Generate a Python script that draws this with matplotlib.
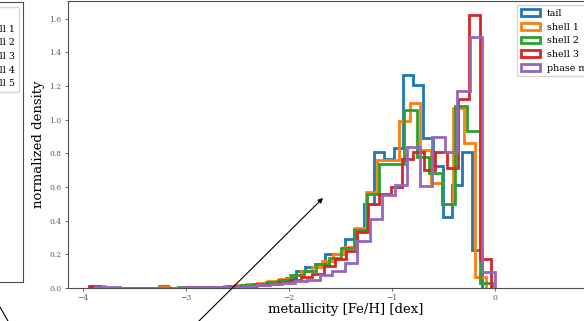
import numpy as np
import matplotlib
matplotlib.use("Agg")
import matplotlib.pyplot as plt
from matplotlib.patches import FancyArrowPatch, Patch

plt.rcParams['font.family'] = ['DejaVu Serif', 'DejaVu Sans']

# normalized metallicity histograms, one bin list per component
labels = ["tail", "shell 1", "shell 2", "shell 3", "phase mixed"]

tail_range = (-3.932, -0.126)
tail = [0.014, 0, 0, 0, 0, 0, 0, 0.013, 0, 0, 0.003, 0, 0.005, 0.006, 0.009,
        0.012, 0.016, 0.022, 0.03, 0.042, 0.06, 0.10, 0.125, 0.14, 0.20, 0.20,
        0.29, 0.35, 0.50, 0.81, 0.764, 0.834, 1.268, 1.209, 0.893, 0.723,
        0.419, 0.61, 0.81, 0.225]

shell1_range = (-3.896, -0.087)
shell1 = [0.012, 0, 0, 0, 0, 0, 0.003, 0, 0, 0.003, 0.004, 0.006, 0.01, 0.015,
          0.022, 0.03, 0.04, 0.055, 0.075, 0.10, 0.125, 0.16, 0.20, 0.245,
          0.355, 0.57, 0.76, 0.76, 0.99, 1.10, 0.82, 0.624, 0.50, 1.07, 0.86,
          0.067]

shell2_range = (-3.936, -0.022)
shell2 = [0.008, 0, 0, 0, 0, 0.002, 0, 0.003, 0.003, 0.005, 0.007, 0.01, 0.015,
          0.022, 0.035, 0.05, 0.075, 0.10, 0.14, 0.18, 0.235, 0.344, 0.56,
          0.735, 0.735, 1.055, 0.78, 0.683, 0.50, 1.084, 0.932, 0.027]

shell3_range = (-3.946, -0.032)
shell3 = [0.012, 0, 0, 0, 0, 0, 0.002, 0, 0, 0.003, 0.004, 0.005, 0.006, 0.008,
          0.012, 0.018, 0.025, 0.035, 0.045, 0.065, 0.085, 0.13, 0.17, 0.22,
          0.33, 0.50, 0.56, 0.60, 0.768, 0.81, 0.70, 0.81, 0.715, 1.124, 1.624,
          0.17]

phase_range = (-3.883, 0.0)
phase = [0.004, 0.003, 0.002, 0.002, 0.002, 0.002, 0.002, 0.003, 0.003, 0.004,
         0.006, 0.008, 0.01, 0.015, 0.022, 0.03, 0.04, 0.05, 0.075, 0.10, 0.15,
         0.28, 0.41, 0.55, 0.614, 0.84, 0.604, 0.897, 0.81, 1.173, 1.493, 0.097]

series = [(tail_range, tail), (shell1_range, shell1), (shell2_range, shell2),
          (shell3_range, shell3), (phase_range, phase)]
colors = ['tab:blue', 'tab:orange', 'tab:green', 'tab:red', 'tab:purple']

left_labels = ["tail", "shell 1", "shell 2", "shell 3", "shell 4", "shell 5"]
left_colors = ['tab:blue', 'tab:orange', 'tab:green', 'tab:red', 'tab:purple', 'tab:brown']

fig = plt.figure(figsize=(5.84, 3.21), dpi=100)

def style(ax):
    for s in ax.spines.values():
        s.set_linewidth(0.8)
        s.set_color('0.3')
    ax.tick_params(labelsize=5.5, length=2.5, width=0.6, pad=2, colors='0.3',
                   labelcolor='0.35')

# neighbouring panel, mostly outside the crop
axl = fig.add_axes([0.0394 - 0.950, 0.1215, 0.950, 0.872])
axl.set_xlim(-4.146, 1.245)
axl.set_ylim(0, 1.7)
style(axl)
handles = [Patch(facecolor='none', edgecolor=c, lw=2) for c in left_colors]
axl.legend(handles, left_labels, loc='upper right', fontsize=6.8,
           bbox_to_anchor=(19 / 584, 1 - 7 / 321), bbox_transform=fig.transFigure,
           borderaxespad=0)

ax = fig.add_axes([68 / 584, 0.1028, 0.950, 0.894])
for (rng, h), c, lab in zip(series, colors, labels):
    edges = np.linspace(rng[0], rng[1], len(h) + 1)
    ax.hist(edges[:-1], bins=edges, weights=h, histtype='step', lw=2,
            color=c, label=lab)
ax.set_xlim(-4.146, 1.245)
ax.set_ylim(0, 1.705)
ax.set_yticks(np.arange(0, 1.61, 0.2))
style(ax)
ax.set_xlabel("metallicity [Fe/H] [dex]", fontsize=9.5, labelpad=0.5)
ax.set_ylabel("normalized density", fontsize=9.5, labelpad=3)
ax.legend(loc='upper left', fontsize=6.8, bbox_to_anchor=(517 / 584, 1 - 5 / 321),
          bbox_transform=fig.transFigure, borderaxespad=0)

# annotation arrows coming from below the crop
tail_pt = (77 / 584, 1 - 442 / 321)
fig.add_artist(FancyArrowPatch(tail_pt, (325 / 584, 1 - 196 / 321),
                               transform=fig.transFigure, arrowstyle='-|>',
                               mutation_scale=7, lw=0.8, color='k'))
fig.add_artist(FancyArrowPatch(tail_pt, (-40 / 584, 1 - 237 / 321),
                               transform=fig.transFigure, arrowstyle='-|>',
                               mutation_scale=7, lw=0.8, color='k'))

fig.savefig("out.png", dpi=100)
